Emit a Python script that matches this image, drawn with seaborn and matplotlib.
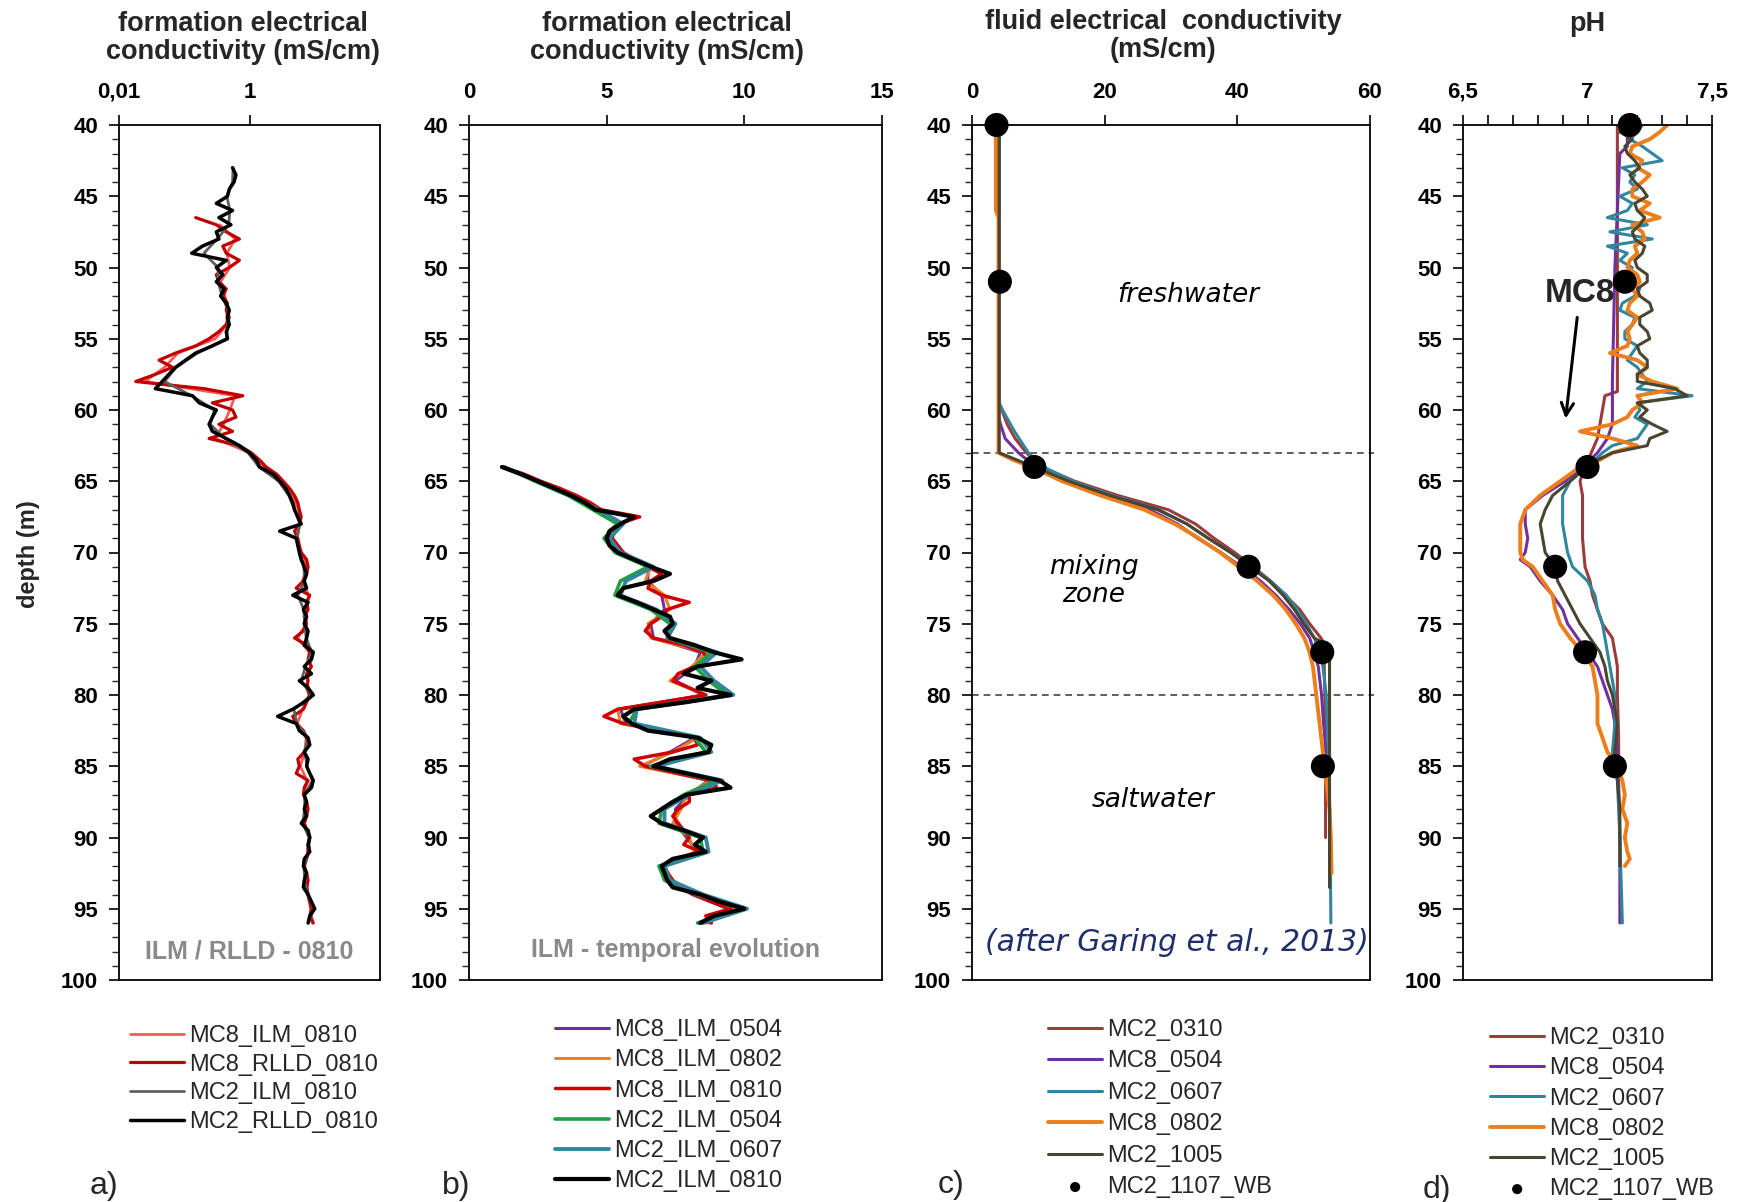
import matplotlib.pyplot as plt
import seaborn as sns
from matplotlib.ticker import MultipleLocator, NullLocator

sns.set_theme(style="white")
plt.rcParams['font.family'] = ['Liberation Sans', 'DejaVu Sans']

# ---------------- depth grids (m) ----------------
depth_half = [40, 40.5, 41, 41.5, 42, 42.5, 43, 43.5, 44, 44.5,
              45, 45.5, 46, 46.5, 47, 47.5, 48, 48.5, 49, 49.5,
              50, 50.5, 51, 51.5, 52, 52.5, 53, 53.5, 54, 54.5,
              55, 55.5, 56, 56.5, 57, 57.5, 58, 58.5, 59, 59.5,
              60, 60.5, 61, 61.5, 62, 62.5, 63, 63.5, 64, 64.5,
              65, 65.5, 66, 66.5, 67, 67.5, 68, 68.5, 69, 69.5,
              70, 70.5, 71, 71.5, 72, 72.5, 73, 73.5, 74, 74.5,
              75, 75.5, 76, 76.5, 77, 77.5, 78, 78.5, 79, 79.5,
              80, 80.5, 81, 81.5, 82, 82.5, 83, 83.5, 84, 84.5,
              85, 85.5, 86, 86.5, 87, 87.5, 88, 88.5, 89, 89.5,
              90, 90.5, 91, 91.5, 92, 92.5, 93, 93.5, 94, 94.5,
              95, 95.5, 96]
depth_1m = [40, 41, 42, 43, 44, 45, 46, 47, 48, 49,
            50, 51, 52, 53, 54, 55, 56, 57, 58, 59,
            60, 61, 62, 63, 64, 65, 66, 67, 68, 69,
            70, 71, 72, 73, 74, 75, 76, 77, 78, 79,
            80, 81, 82, 83, 84, 85, 86, 87, 88, 89,
            90, 91, 92, 93, 94, 95, 96]

# ---------------- a) formation EC, log scale ----------------
a_depth_mc2 = depth_half[6:]      # 43 - 96
a_depth_mc8 = depth_half[13:]     # 46.5 - 96
mc2_rlld_0810 = [0.55, 0.62, 0.58, 0.49, 0.46, 0.31, 0.55, 0.34, 0.52, 0.31,
                 0.34, 0.19, 0.13, 0.44, 0.31, 0.39, 0.31, 0.41, 0.36, 0.44,
                 0.49, 0.46, 0.49, 0.44, 0.46, 0.27, 0.15, 0.105, 0.074, 0.058,
                 0.046, 0.036, 0.134, 0.17, 0.31, 0.27, 0.24, 0.27, 0.44, 0.70,
                 1.0, 1.27, 1.42, 2.3, 2.9, 3.6, 4.1, 4.6, 4.9, 5.5,
                 6.2, 2.9, 5.2, 5.5, 5.8, 6.2, 6.9, 7.5, 6.9, 7.5,
                 4.6, 7.9, 6.7, 7.5, 6.9, 7.9, 7.5, 6.9, 9.5, 8.9,
                 6.9, 8.9, 5.8, 7.9, 9.5, 6.9, 4.6, 2.7, 5.2, 5.8,
                 7.9, 8.4, 6.9, 7.9, 7.5, 8.4, 9.5, 8.9, 6.9, 7.5,
                 6.9, 7.5, 6.2, 7.9, 8.4, 7.9, 8.4, 6.9, 6.7, 7.5,
                 6.9, 6.7, 7.9, 8.9, 10.0, 8.4, 7.9]
mc8_rlld_0810 = [0.15, 0.31, 0.44, 0.70, 0.39, 0.44, 0.70, 0.49, 0.31, 0.34,
                 0.44, 0.39, 0.46, 0.44, 0.49, 0.44, 0.34, 0.24, 0.15, 0.074,
                 0.041, 0.066, 0.036, 0.018, 0.20, 0.79, 0.27, 0.55, 0.62, 0.34,
                 0.55, 0.24, 0.70, 1.06, 1.42, 1.8, 2.6, 3.3, 4.1, 4.9,
                 5.5, 5.8, 6.2, 5.8, 4.9, 5.5, 5.8, 6.2, 7.5, 7.9,
                 7.5, 6.7, 5.2, 8.4, 7.5, 7.9, 6.9, 7.5, 6.7, 4.9,
                 7.5, 8.4, 7.9, 8.9, 7.5, 7.9, 7.5, 8.4, 7.5, 6.7,
                 4.6, 5.2, 6.7, 7.5, 7.9, 6.9, 5.5, 5.8, 5.2, 7.9,
                 6.9, 6.7, 7.5, 7.9, 7.5, 6.9, 7.5, 8.4, 7.9, 7.9,
                 7.5, 6.9, 7.5, 7.9, 7.5, 7.9, 8.4, 8.9, 8.4, 9.5]
mc8_ilm_0810 = [0.35, 0.6, 0.45, 0.5, 0.36, 0.42, 0.45, 0.45, 0.3, 0.08,
                0.05, 0.025, 0.6, 0.5, 0.4, 0.3, 1.0, 1.7, 3.1, 4.6,
                5.6, 5.9, 5.4, 6.0, 7.6, 6.5, 8.0, 7.6, 7.3, 5.5,
                8.2, 8.6, 7.7, 8.2, 6.5, 5.4, 7.4, 7.0, 6.0, 7.6,
                6.8, 7.7, 7.0, 8.2, 7.8, 7.0, 7.7, 7.8, 8.7, 9.2]
mc2_ilm_0810 = [0.56, 0.55, 0.45, 0.5, 0.48, 0.32, 0.2, 0.33, 0.33, 0.38,
                0.47, 0.47, 0.44, 0.16, 0.075, 0.05, 0.13, 0.29, 0.25, 0.42,
                0.95, 1.4, 2.8, 4.0, 4.9, 5.9, 5.3, 5.9, 6.8, 7.0,
                5.5, 6.8, 7.0, 7.4, 9.0, 7.2, 6.2, 9.0, 4.8, 5.3,
                7.8, 7.0, 7.6, 9.2, 7.0, 7.0, 6.5, 8.2, 8.2, 6.8,
                7.0, 7.8, 9.6, 8.0]

# ---------------- b) formation EC, temporal evolution ----------------
b_depth_fine = depth_half[48:]    # 64 - 96 every 0.5 m
b_depth_coarse = depth_1m[24:]    # 64 - 96 every 1 m
mc2_ilm_0810_b = [1.2, 1.9, 2.5, 3.1, 3.7, 4.2, 4.6, 6.0, 5.5, 5.1,
                  5.0, 5.1, 5.4, 6.0, 6.6, 7.3, 6.7, 5.6, 5.4, 6.1,
                  6.7, 7.3, 7.4, 7.1, 7.3, 8.2, 8.9, 9.9, 8.3, 7.8,
                  8.8, 8.3, 9.5, 7.9, 6.0, 5.6, 5.9, 6.5, 8.3, 8.8,
                  8.7, 7.3, 6.7, 7.9, 9.1, 9.5, 7.9, 7.4, 7.0, 6.6,
                  7.0, 7.8, 8.5, 8.2, 8.6, 7.4, 7.0, 7.1, 7.2, 7.4,
                  8.4, 9.1, 10.0, 8.9, 8.4]
mc8_ilm_0810_b = [1.2, 2.0, 2.6, 3.3, 3.9, 4.4, 4.8, 6.2, 5.4, 5.1,
                  5.2, 5.4, 5.6, 6.0, 6.5, 7.0, 6.6, 6.5, 7.0, 8.0,
                  7.2, 7.0, 6.6, 6.4, 6.7, 7.8, 8.5, 8.7, 8.2, 7.6,
                  7.4, 8.0, 8.6, 7.0, 5.4, 4.9, 5.6, 7.0, 8.2, 8.3,
                  7.4, 6.0, 6.4, 7.6, 8.8, 9.0, 8.0, 8.0, 7.6, 7.4,
                  7.6, 7.8, 8.0, 7.8, 8.4, 7.5, 7.0, 7.2, 7.4, 7.6,
                  8.2, 8.8, 9.5, 8.6, 8.8]
mc8_ilm_0504 = [1.2, 2.6, 3.8, 4.8, 5.4, 5.2, 5.6, 6.5, 6.5, 7.0,
                7.1, 6.6, 6.7, 8.4, 8.2, 7.5, 8.5, 5.5, 5.7, 8.2,
                7.3, 6.3, 8.7, 8.0, 7.5, 7.5, 7.9, 8.3, 7.0, 7.3,
                8.1, 9.4, 8.7]
mc8_ilm_0802 = [1.3, 2.5, 3.9, 4.7, 5.5, 5.1, 5.5, 6.6, 6.4, 7.1,
                7.3, 6.5, 6.6, 8.6, 8.1, 7.3, 8.6, 5.4, 5.5, 8.3,
                7.4, 6.2, 8.8, 7.9, 7.7, 7.4, 8.0, 8.2, 7.1, 7.4,
                8.2, 9.6, 8.6]
mc2_ilm_0504 = [1.3, 2.4, 3.6, 4.5, 5.4, 4.9, 5.3, 6.5, 5.5, 5.3,
                6.6, 7.3, 7.2, 8.8, 8.2, 8.7, 9.4, 6.1, 5.8, 8.2,
                8.6, 6.6, 9.0, 7.8, 7.0, 6.9, 8.4, 8.5, 6.9, 7.1,
                8.3, 9.9, 8.3]
mc2_ilm_0607 = [1.2, 2.5, 3.7, 4.7, 5.6, 5.1, 5.5, 6.7, 5.7, 5.5,
                6.8, 7.5, 7.2, 9.0, 8.4, 8.9, 9.6, 6.1, 6.0, 8.4,
                8.8, 6.8, 9.2, 8.0, 7.1, 7.1, 8.6, 8.7, 7.1, 7.3,
                8.5, 10.1, 8.5]

# ---------------- c) fluid EC ----------------
c_depth_0310 = [40, 59.5, 60, 61, 62, 63, 64, 65, 66, 67, 68, 69, 70, 71, 72,
                73, 74, 75, 76, 76.3, 78, 80, 85, 90]
c_ec_0310 = [4.1, 4.1, 4.5, 5.3, 6.5, 8.2, 10.5, 15.5, 22.0, 29.6, 33.7, 36.5,
             39.6, 42.4, 45.0, 47.2, 49.4, 50.9, 52.6, 53.0, 53.1, 53.2, 53.3, 53.3]
c_depth_0504 = [40, 60.5, 61, 62, 63, 64, 65, 66, 67, 68, 69, 70, 71, 72, 73,
                74, 75, 76, 77, 78, 80, 82, 84, 86]
c_ec_0504 = [4.0, 4.0, 4.3, 5.0, 7.0, 9.6, 14.0, 19.8, 26.8, 31.0, 34.0, 37.5,
             40.6, 43.5, 45.8, 47.8, 49.5, 50.9, 51.6, 52.2, 52.7, 53.0, 53.4, 53.8]
c_depth_0607 = [40, 59.5, 60, 60.5, 61, 61.5, 62, 62.5, 63, 63.5, 64, 65, 66,
                67, 68, 69, 70, 71, 72, 73, 74, 75, 76, 77, 78, 80, 85, 90, 96]
c_ec_0607 = [4.1, 4.1, 4.6, 5.2, 5.8, 6.4, 7.1, 7.8, 8.5, 9.6, 10.8, 15.2, 21.2,
             28.2, 32.4, 35.6, 39.0, 42.2, 45.0, 47.4, 49.0, 50.4, 51.6, 52.4,
             52.9, 53.4, 53.8, 54.0, 54.1]
c_depth_0802 = [40, 46, 46.5, 63, 63.5, 64, 65, 66, 67, 68, 69, 70, 71, 72, 73,
                74, 75, 76, 77, 78, 80, 82, 84, 86, 88, 90, 92.5]
c_ec_0802 = [3.6, 3.6, 4.0, 4.0, 6.2, 9.0, 13.6, 19.4, 26.0, 30.6, 34.2, 37.4,
             40.2, 43.0, 45.4, 47.3, 48.8, 50.1, 50.9, 51.4, 51.9, 52.4, 52.9,
             53.4, 53.9, 54.1, 54.2]
c_depth_1005 = [40, 63, 64, 65, 66, 67, 68, 69, 70, 71, 72, 73, 74, 75, 76,
                76.4, 77, 80, 85, 90, 93.5]
c_ec_1005 = [4.1, 4.1, 9.4, 14.6, 20.8, 28.0, 32.4, 35.6, 39.0, 41.9, 44.8,
             46.9, 48.6, 50.0, 51.6, 53.2, 53.9, 53.9, 53.9, 53.9, 53.9]
wb_depth = [40, 51, 64, 71, 77, 85]
wb_ec = [3.7, 4.2, 9.4, 41.7, 52.8, 52.9]
wb_ph = [7.17, 7.15, 7.0, 6.87, 6.99, 7.11]

# ---------------- d) pH ----------------
d_depth_0310 = [40, 58.7, 59, 60, 61, 62, 63, 64, 65, 66, 67, 68, 69, 70, 71,
                72, 73, 74, 75, 76, 77, 78, 80, 83, 86]
d_ph_0310 = [7.12, 7.12, 7.07, 7.06, 7.05, 7.04, 7.015, 6.99, 6.97, 6.98, 6.98,
             6.98, 6.98, 6.985, 6.99, 7.01, 7.02, 7.04, 7.06, 7.10, 7.11, 7.12,
             7.12, 7.125, 7.125]
d_depth_0504 = [40, 41.5, 42, 50, 58, 61, 62, 63, 64, 65, 66, 67, 68, 69, 70,
                70.5, 71, 72, 73, 74, 75, 76, 77, 78, 79, 80, 81, 82, 84, 86, 90, 96]
d_ph_0504 = [7.16, 7.16, 7.13, 7.11, 7.10, 7.10, 7.08, 7.04, 6.98, 6.91, 6.82,
             6.75, 6.75, 6.76, 6.75, 6.73, 6.77, 6.81, 6.86, 6.90, 6.92, 6.96,
             7.0, 7.04, 7.06, 7.08, 7.10, 7.11, 7.12, 7.125, 7.13, 7.13]
d_depth_0607 = depth_half[:46] + [63, 64, 65, 66, 67, 68, 69, 70, 71, 72, 73,
                                  74, 75, 76, 77, 78, 79, 80, 82, 84, 86, 90, 96]
d_ph_0607 = [7.22, 7.20, 7.17, 7.22, 7.26, 7.30, 7.14, 7.19, 7.17, 7.20,
             7.13, 7.18, 7.16, 7.08, 7.24, 7.09, 7.26, 7.08, 7.16, 7.13,
             7.18, 7.15, 7.17, 7.21, 7.19, 7.14, 7.13, 7.19, 7.18, 7.15,
             7.15, 7.20, 7.18, 7.16, 7.20, 7.22, 7.24, 7.20, 7.42, 7.20,
             7.21, 7.19, 7.24, 7.22, 7.20, 7.10,
             7.06, 7.0, 6.93, 6.90, 6.90, 6.90, 6.91, 6.92, 6.94, 7.0, 7.03,
             7.04, 7.06, 7.07, 7.08, 7.09, 7.10, 7.11, 7.11, 7.10, 7.12, 7.13, 7.14]
d_depth_0802 = depth_half[:48] + [64, 65, 66, 67, 68, 69, 70, 70.5, 71, 72, 73,
                                  74, 75, 76, 77, 78, 79, 80, 81, 82, 83, 84,
                                  85, 86, 87, 88, 89, 90, 91, 91.5, 92]
d_ph_0802 = [7.32, 7.29, 7.25, 7.18, 7.17, 7.22, 7.20, 7.25, 7.22, 7.18,
             7.18, 7.25, 7.21, 7.29, 7.18, 7.22, 7.23, 7.19, 7.20, 7.17,
             7.16, 7.20, 7.21, 7.18, 7.20, 7.17, 7.16, 7.20, 7.18, 7.16,
             7.17, 7.16, 7.09, 7.20, 7.24, 7.20, 7.26, 7.36, 7.20, 7.22,
             7.18, 7.16, 7.10, 6.97, 7.10, 7.20, 7.10, 7.05,
             6.97, 6.89, 6.81, 6.75, 6.73, 6.73, 6.73, 6.74, 6.78, 6.82, 6.86,
             6.87, 6.89, 6.93, 6.98, 7.02, 7.03, 7.04, 7.04, 7.04, 7.06, 7.08,
             7.12, 7.14, 7.15, 7.14, 7.16, 7.15, 7.16, 7.17, 7.15]
d_depth_1005 = depth_half[:47] + [63.5, 64, 65, 66, 67, 68, 69, 70, 71, 72, 73,
                                  74, 75, 76, 77, 78, 79, 80, 81, 82, 84, 86,
                                  88, 90, 92]
d_ph_1005 = [7.16, 7.13, 7.18, 7.15, 7.16, 7.19, 7.21, 7.17, 7.19, 7.22,
             7.24, 7.19, 7.20, 7.23, 7.21, 7.18, 7.19, 7.23, 7.22, 7.19,
             7.20, 7.24, 7.24, 7.20, 7.21, 7.25, 7.26, 7.21, 7.21, 7.24,
             7.25, 7.20, 7.21, 7.24, 7.24, 7.20, 7.20, 7.35, 7.40, 7.20,
             7.24, 7.21, 7.26, 7.32, 7.25, 7.24, 7.10,
             7.04, 6.99, 6.93, 6.86, 6.83, 6.81, 6.82, 6.83, 6.87, 6.88, 6.91,
             6.94, 6.97, 7.01, 7.05, 7.07, 7.08, 7.10, 7.11, 7.12, 7.11, 7.12,
             7.13, 7.13, 7.13]

# colours
c_brown = "#9b3b3b"
c_purple = "#7030a0"
c_teal = "#31859c"
c_orange = "#ee7d1b"
c_olive = "#4a4530"

# ---------------- figure layout (pixel based) ----------------
W, H = 1738, 1202
TOP, BOT = 125, 980


def rect(left, right):
    return [left / W, 1 - BOT / H, (right - left) / W, (BOT - TOP) / H]


fig = plt.figure(figsize=(W / 100, H / 100), dpi=100)
ax_a = fig.add_axes(rect(119, 380))
ax_b = fig.add_axes(rect(469, 882))
ax_c = fig.add_axes(rect(972, 1370))
ax_d = fig.add_axes(rect(1463, 1712))

tick_font = dict(fontsize=16, fontweight="bold")


def style_axis(ax):
    ax.set_ylim(100, 40)
    ax.yaxis.set_major_locator(MultipleLocator(5))
    ax.yaxis.set_minor_locator(MultipleLocator(1))
    ax.xaxis.tick_top()
    ax.tick_params(axis="y", which="major", direction="out", length=7, width=1.2,
                   left=True, right=False, pad=8, colors="black")
    ax.tick_params(axis="y", which="minor", direction="out", length=5, width=1.0,
                   left=True, right=False)
    ax.tick_params(axis="x", which="both", direction="out", length=7, width=1.2,
                   top=True, bottom=False, pad=9, colors="black")
    for lab in ax.get_yticklabels():
        lab.set_fontsize(16)
        lab.set_fontweight("bold")
    for sp in ax.spines.values():
        sp.set_color("black")
        sp.set_linewidth(1.3)
    ax.set_xlabel("")
    ax.set_ylabel("")


def depth_line(ax, x, y, color, label, lw=2.2):
    sns.lineplot(x=x, y=y, orient="y", estimator=None, color=color, lw=lw,
                 label=label, ax=ax)


def add_legend(ax, x_px, y_px, spacing, markerscale=1.0):
    ax.legend(loc="upper left", bbox_to_anchor=(x_px / W, 1 - y_px / H),
              bbox_transform=fig.transFigure, frameon=False, fontsize=17,
              handlelength=2.3, handletextpad=0.2, labelspacing=spacing,
              borderpad=0, borderaxespad=0, markerscale=markerscale)


# ---- a)
ax_a.set_xscale("log")
depth_line(ax_a, mc8_ilm_0810, depth_1m[7:], "#ff5a5a", "MC8_ILM_0810", 2.0)
depth_line(ax_a, mc8_rlld_0810, a_depth_mc8, "#c00000", "MC8_RLLD_0810", 2.3)
depth_line(ax_a, mc2_ilm_0810, depth_1m[3:], "#606060", "MC2_ILM_0810", 2.0)
depth_line(ax_a, mc2_rlld_0810, a_depth_mc2, "black", "MC2_RLLD_0810", 2.5)
ax_a.set_xlim(0.01, 100)
ax_a.set_xticks([0.01, 1])
ax_a.set_xticklabels(["0,01", "1"], **tick_font)
ax_a.xaxis.set_minor_locator(NullLocator())
style_axis(ax_a)
ax_a.text(0.5, 98.0, "ILM / RLLD - 0810", transform=ax_a.get_yaxis_transform(),
          ha="center", va="center", fontsize=18, fontweight="bold", color="#8a8a8a")
add_legend(ax_a, 130, 1025, 0.28)

# ---- b)
depth_line(ax_b, mc8_ilm_0504, b_depth_coarse, c_purple, "MC8_ILM_0504")
depth_line(ax_b, mc8_ilm_0802, b_depth_coarse, "#f07f20", "MC8_ILM_0802")
depth_line(ax_b, mc8_ilm_0810_b, b_depth_fine, "#d00000", "MC8_ILM_0810", 2.5)
depth_line(ax_b, mc2_ilm_0504, b_depth_coarse, "#20a040", "MC2_ILM_0504", 2.6)
depth_line(ax_b, mc2_ilm_0607, b_depth_coarse, c_teal, "MC2_ILM_0607", 2.8)
depth_line(ax_b, mc2_ilm_0810_b, b_depth_fine, "black", "MC2_ILM_0810", 3.0)
ax_b.set_xlim(0, 15)
ax_b.set_xticks([0, 5, 10, 15])
ax_b.set_xticklabels(["0", "5", "10", "15"], **tick_font)
style_axis(ax_b)
ax_b.text(0.5, 97.9, "ILM - temporal evolution", transform=ax_b.get_yaxis_transform(),
          ha="center", va="center", fontsize=18, fontweight="bold", color="#8a8a8a")
add_legend(ax_b, 555, 1019, 0.35)

# ---- c)
depth_line(ax_c, c_ec_0310, c_depth_0310, c_brown, "MC2_0310")
depth_line(ax_c, c_ec_0504, c_depth_0504, c_purple, "MC8_0504")
depth_line(ax_c, c_ec_0607, c_depth_0607, c_teal, "MC2_0607")
depth_line(ax_c, c_ec_0802, c_depth_0802, c_orange, "MC8_0802", 2.8)
depth_line(ax_c, c_ec_1005, c_depth_1005, c_olive, "MC2_1005")
sns.scatterplot(x=wb_ec, y=wb_depth, color="black", s=300, edgecolor="none",
                label="MC2_1107_WB", zorder=5, clip_on=False, ax=ax_c)
for d in [63, 80]:
    ax_c.axhline(d, xmin=0, xmax=1.01, clip_on=False, color="#444444", lw=1.2,
                 ls=(0, (4, 3)), zorder=1)
ax_c.set_xlim(0, 60)
ax_c.set_xticks([0, 20, 40, 60])
ax_c.set_xticklabels(["0", "20", "40", "60"], **tick_font)
style_axis(ax_c)
zone_font = dict(fontsize=19, fontstyle="italic", family="DejaVu Sans",
                 ha="center", va="center", color="black")
ax_c.text(32.6, 51.9, "freshwater", **zone_font)
ax_c.text(18.4, 72.0, "mixing\nzone", linespacing=1.05, **zone_font)
ax_c.text(27.3, 87.4, "saltwater", **zone_font)
ax_c.text(30.9, 97.4, "(after Garing et al., 2013)", fontsize=21.5,
          fontstyle="italic", family="DejaVu Sans", ha="center", va="center",
          color="#1f2f6b")
add_legend(ax_c, 1048, 1019, 0.40, markerscale=0.42)

# ---- d)
depth_line(ax_d, d_ph_0310, d_depth_0310, c_brown, "MC2_0310")
depth_line(ax_d, d_ph_0504, d_depth_0504, c_purple, "MC8_0504")
depth_line(ax_d, d_ph_0607, d_depth_0607, c_teal, "MC2_0607")
depth_line(ax_d, d_ph_0802, d_depth_0802, c_orange, "MC8_0802", 2.8)
depth_line(ax_d, d_ph_1005, d_depth_1005, c_olive, "MC2_1005")
sns.scatterplot(x=wb_ph, y=wb_depth, color="black", s=300, edgecolor="none",
                label="MC2_1107_WB", zorder=5, clip_on=False, ax=ax_d)
ax_d.set_xlim(6.5, 7.5)
ax_d.set_xticks([6.5, 7.0, 7.5])
ax_d.set_xticklabels(["6,5", "7", "7,5"], **tick_font)
ax_d.xaxis.set_minor_locator(MultipleLocator(0.1))
style_axis(ax_d)
ax_d.annotate("MC8", xy=(6.912, 60.6), xytext=(6.97, 51.8), ha="center", va="center",
              fontsize=24, fontweight="bold",
              arrowprops=dict(arrowstyle="->", color="black", lw=2.2,
                              mutation_scale=22, shrinkA=4, shrinkB=0))
add_legend(ax_d, 1490, 1027, 0.35, markerscale=0.42)

# ---------------- titles and labels ----------------
title_font = dict(fontsize=19.5, fontweight="bold", ha="center", va="top",
                  linespacing=1.1)
fig.text(243 / W, 1 - 11 / H, "formation electrical\nconductivity (mS/cm)", **title_font)
fig.text(667 / W, 1 - 11 / H, "formation electrical\nconductivity (mS/cm)", **title_font)
fig.text(1163 / W, 1 - 9 / H, "fluid electrical  conductivity\n(mS/cm)", **title_font)
fig.text(1587 / W, 1 - 11 / H, "pH", **title_font)
fig.text(28 / W, 1 - 554 / H, "depth (m)", rotation=90, ha="center", va="center",
         fontsize=17, fontweight="bold")
for lab, xp, yp in [("a)", 90, 1186), ("b)", 442, 1186), ("c)", 938, 1185),
                    ("d)", 1423, 1190)]:
    fig.text(xp / W, 1 - yp / H, lab, ha="left", va="center", fontsize=23)

fig.savefig("out.png", dpi=100)
